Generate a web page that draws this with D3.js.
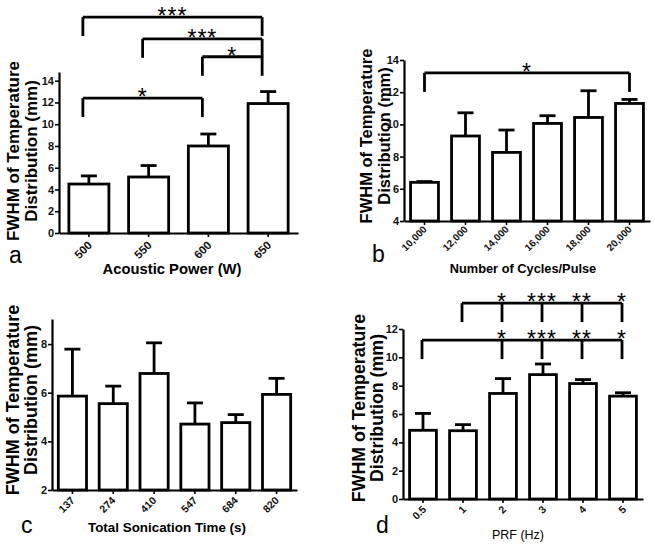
<!DOCTYPE html>
<html>
<head>
<meta charset="utf-8">
<script src="https://cdn.jsdelivr.net/npm/d3@7"></script>
<style>
  html, body { margin: 0; padding: 0; background: #fff; }
  svg { display: block; font-family: "Liberation Sans", Arial, sans-serif; }
</style>
</head>
<body>
<svg id="fig" width="655" height="548"></svg>
<script>
// ---- data ----

// a : acoustic power
const powerLabels = ["500", "550", "600", "650"];
const powerMeans  = [4.5, 5.15, 8.0, 11.9];
const powerUpper  = [5.25, 6.2, 9.1, 13.0];
const powerTicks  = [0, 2, 4, 6, 8, 10, 12, 14];

// b : number of cycles / pulse
const cycleLabels = ["10,000", "12,000", "14,000", "16,000", "18,000", "20,000"];
const cycleMeans  = [6.4, 9.28, 8.26, 10.06, 10.43, 11.3];
const cycleUpper  = [6.45, 10.72, 9.65, 10.54, 12.09, 11.55];
const cycleTicks  = [4, 6, 8, 10, 12, 14];

// c : total sonication time
const timeLabels = ["137", "274", "410", "547", "684", "820"];
const timeMeans  = [5.86, 5.55, 6.79, 4.71, 4.77, 5.93];
const timeUpper  = [7.79, 6.27, 8.05, 5.58, 5.1, 6.59];
const timeTicks  = [2, 4, 6, 8];

// d : PRF
const prfLabels = ["0.5", "1", "2", "3", "4", "5"];
const prfMeans  = [4.85, 4.82, 7.45, 8.78, 8.15, 7.26];
const prfUpper  = [6.04, 5.25, 8.5, 9.53, 8.43, 7.5];
const prfTicks  = [0, 2, 4, 6, 8, 10, 12];

// significance brackets (level in y units)
const powerSig = [
  {from: "500", to: ["600"], level: 12.4, stars: ["*"]},
  {from: "600", to: ["650"], level: 16.2, stars: ["*"]},
  {from: "550", to: ["650"], level: 17.85, stars: ["***"]},
  {from: "500", to: ["650"], level: 19.85, stars: ["***"]}
];
const cycleSig = [
  {from: "10,000", to: ["20,000"], level: 13.2, stars: ["*"]}
];
const timeSig = [];
const prfSig = [
  {from: "0.5", to: ["2", "3", "4", "5"], level: 11.22, stars: ["*", "***", "**", "*"]},
  {from: "1",   to: ["2", "3", "4", "5"], level: 13.83, stars: ["*", "***", "**", "*"]}
];

const yTitle1 = "FWHM of Temperature";
const yTitle2 = "Distribution (mm)";

// ---- panels ----
const panels = [
  {letter: "a", labels: powerLabels, means: powerMeans, upper: powerUpper, ticks: powerTicks, sig: powerSig,
   xTitle: "Acoustic Power (W)", xTitleSize: 14.8, xTitleWeight: "bold", xTitlePos: [172, 274],
   left: 59, right: 298, top: 72, bottom: 233, yDomain: [0, 14.8], pad: 0.33,
   yTitleSize: 17, yTitleX: [19, 37], yTitleY: 151, letterPos: [9, 263], legShift: -6,
   tickLabelSize: 11.5, tickLabelShift: [4, 13]},
  {letter: "b", labels: cycleLabels, means: cycleMeans, upper: cycleUpper, ticks: cycleTicks, sig: cycleSig,
   xTitle: "Number of Cycles/Pulse", xTitleSize: 12.8, xTitleWeight: "bold", xTitlePos: [523, 273],
   left: 404, right: 650, top: 60, bottom: 221, yDomain: [4, 14], pad: 0.32,
   yTitleSize: 16.5, yTitleX: [372, 390], yTitleY: 136, letterPos: [372, 262], legShift: 0,
   tickLabelSize: 10, tickLabelShift: [3, 9]},
  {letter: "c", labels: timeLabels, means: timeMeans, upper: timeUpper, ticks: timeTicks, sig: timeSig,
   xTitle: "Total Sonication Time (s)", xTitleSize: 13.4, xTitleWeight: "bold", xTitlePos: [167, 532],
   left: 52, right: 297, top: 319, bottom: 490, yDomain: [2, 9.03], pad: 0.31,
   yTitleSize: 18, yTitleX: [19, 37], yTitleY: 400, letterPos: [21, 533], legShift: 0,
   tickLabelSize: 10.5, tickLabelShift: [3, 11]},
  {letter: "d", labels: prfLabels, means: prfMeans, upper: prfUpper, ticks: prfTicks, sig: prfSig,
   xTitle: "PRF (Hz)", xTitleSize: 12.5, xTitleWeight: "normal", xTitlePos: [518, 539],
   left: 403, right: 643, top: 329, bottom: 499, yDomain: [0, 12], pad: 0.33,
   yTitleSize: 17.8, yTitleX: [365, 383], yTitleY: 408, letterPos: [376, 533], legShift: -1,
   tickLabelSize: 10.5, tickLabelShift: [4, 11]}
];

const svg = d3.select("#fig");

function drawPanel(p) {
  const g = svg.append("g").attr("class", "panel-" + p.letter);

  const x = d3.scaleBand()
    .domain(p.labels)
    .range([p.left, p.right])
    .paddingInner(p.pad)
    .paddingOuter(p.pad / 2);
  const y = d3.scaleLinear()
    .domain(p.yDomain)
    .range([p.bottom, p.top]);
  const cx = d => x(d) + x.bandwidth() / 2;

  // bars
  g.selectAll("rect.bar")
    .data(p.labels)
    .join("rect")
    .attr("class", "bar")
    .attr("x", d => x(d))
    .attr("width", x.bandwidth())
    .attr("y", (d, i) => y(p.means[i]))
    .attr("height", (d, i) => y(p.yDomain[0]) - y(p.means[i]))
    .attr("fill", "#fff")
    .attr("stroke", "#000")
    .attr("stroke-width", 2.8);

  // error bars (upper only)
  const eb = g.selectAll("g.err").data(p.labels).join("g").attr("class", "err")
    .attr("stroke", "#000").attr("stroke-width", 2.8);
  eb.append("line")
    .attr("x1", d => cx(d)).attr("x2", d => cx(d))
    .attr("y1", (d, i) => y(p.means[i])).attr("y2", (d, i) => y(p.upper[i]));
  eb.append("line")
    .attr("x1", d => cx(d) - 8).attr("x2", d => cx(d) + 8)
    .attr("y1", (d, i) => y(p.upper[i])).attr("y2", (d, i) => y(p.upper[i]));

  // y axis
  const yAx = g.append("g")
    .attr("transform", `translate(${p.left},0)`)
    .call(d3.axisLeft(y).tickValues(p.ticks).tickFormat(d3.format("d"))
      .tickSize(4).tickSizeOuter(0).tickPadding(1));
  yAx.select(".domain").attr("stroke-width", 2.2);
  yAx.selectAll(".tick line").attr("stroke-width", 1.6);
  yAx.selectAll(".tick text")
    .attr("font-size", 11).attr("font-weight", "bold").attr("fill", "#111");

  // x axis
  const xAx = g.append("g")
    .attr("transform", `translate(0,${p.bottom})`)
    .call(d3.axisBottom(x).tickSize(4).tickSizeOuter(0));
  xAx.select(".domain").attr("stroke-width", 2.2);
  xAx.selectAll(".tick line").attr("stroke-width", 1.6);
  xAx.selectAll(".tick text")
    .attr("x", null).attr("y", null).attr("dy", null)
    .attr("text-anchor", "end")
    .attr("transform", `translate(${p.tickLabelShift[0]},${p.tickLabelShift[1]}) rotate(-45)`)
    .attr("font-size", p.tickLabelSize).attr("font-weight", "bold").attr("fill", "#111");

  // axis titles
  g.append("text")
    .attr("x", p.xTitlePos[0]).attr("y", p.xTitlePos[1])
    .attr("text-anchor", "middle")
    .attr("font-size", p.xTitleSize).attr("font-weight", p.xTitleWeight)
    .text(p.xTitle);
  [yTitle1, yTitle2].forEach((t, k) => {
    g.append("text")
      .attr("transform", `translate(${p.yTitleX[k]},${p.yTitleY}) rotate(-90)`)
      .attr("text-anchor", "middle")
      .attr("font-size", p.yTitleSize).attr("font-weight", "bold")
      .text(t);
  });

  // panel letter
  g.append("text")
    .attr("x", p.letterPos[0]).attr("y", p.letterPos[1])
    .attr("font-size", 23)
    .text(p.letter);

  // significance brackets
  const leg = 19;
  p.sig.forEach(s => {
    const ly = y(s.level);
    const xs = [s.from].concat(s.to).map(d => cx(d) + p.legShift);
    const bg = g.append("g").attr("stroke", "#000").attr("stroke-width", 2.8).attr("fill", "none");
    bg.append("line")
      .attr("x1", d3.min(xs)).attr("x2", d3.max(xs))
      .attr("y1", ly).attr("y2", ly);
    xs.forEach(xv => {
      bg.append("line").attr("x1", xv).attr("x2", xv).attr("y1", ly).attr("y2", ly + leg);
    });
    // star positions: mid of a single bracket, or above each leg of a comb
    const starXs = s.to.length === 1 ? [(xs[0] + xs[1]) / 2] : xs.slice(1);
    starXs.forEach((sx, k) => {
      g.append("text")
        .attr("x", sx).attr("y", ly + 7)
        .attr("text-anchor", "middle")
        .attr("font-size", 23)
        .attr("letter-spacing", 1)
        .text(s.stars[k]);
    });
  });
}

panels.forEach(drawPanel);
</script>
</body>
</html>
